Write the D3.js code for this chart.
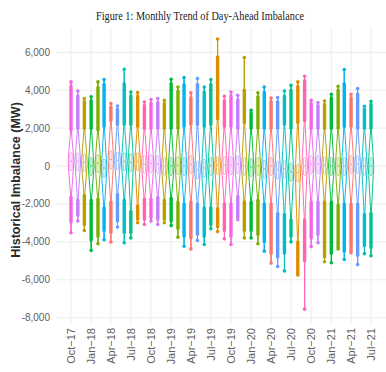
<!DOCTYPE html>
<html>
<head>
<meta charset="utf-8">
<script src="https://cdn.jsdelivr.net/npm/d3@7"></script>
<style>
body { margin: 0; background: #fff; }
</style>
</head>
<body>
<div id="viz"></div>
<script>
const width = 386;
const height = 372;
const panel = {left: 56, right: 386, top: 27, bottom: 325};

const months = [
	'2017-10', '2017-11', '2017-12', '2018-01', '2018-02', '2018-03', '2018-04', '2018-05', '2018-06', '2018-07',
	'2018-08', '2018-09', '2018-10', '2018-11', '2018-12', '2019-01', '2019-02', '2019-03', '2019-04', '2019-05',
	'2019-06', '2019-07', '2019-08', '2019-09', '2019-10', '2019-11', '2019-12', '2020-01', '2020-02', '2020-03',
	'2020-04', '2020-05', '2020-06', '2020-07', '2020-08', '2020-09', '2020-10', '2020-11', '2020-12', '2021-01',
	'2021-02', '2021-03', '2021-04', '2021-05', '2021-06', '2021-07'
];
const tickMonths = ['2017-10', '2018-01', '2018-04', '2018-07', '2018-10', '2019-01', '2019-04', '2019-07',
	'2019-10', '2020-01', '2020-04', '2020-07', '2020-10', '2021-01', '2021-04', '2021-07'];
const tickLabels = ['Oct\u221217', 'Jan\u221218', 'Apr\u221218', 'Jul\u221218', 'Oct\u221218', 'Jan\u221219', 'Apr\u221219', 'Jul\u221219',
	'Oct\u221219', 'Jan\u221220', 'Apr\u221220', 'Jul\u221220', 'Oct\u221220', 'Jan\u221221', 'Apr\u221221', 'Jul\u221221'];
const yTicks = [-8000, -6000, -4000, -2000, 0, 2000, 4000, 6000];

// box stats per month (MW)
const medians = [250, 250, 200, 0, 150, -100, 350, 300, 250, 200, 250, 100, 150, 100, 0, 0, 50, 0, 100, -200,
	-100, 0, 50, 50, 50, 100, 0, -50, 0, -150, 0, -200, -150, -300, -350, 0, 100, 100, 50, 0,
	0, 0, 100, 100, 0, 0];
const q1s = [-250, -250, -300, -500, -350, -600, -150, -200, -250, -300, -250, -400, -350, -400, -500, -500, -450, -500, -400, -700,
	-600, -500, -450, -450, -450, -400, -500, -550, -500, -650, -500, -700, -650, -800, -850, -500, -400, -400, -450, -500,
	-500, -500, -400, -400, -500, -500];
const q3s = [700, 700, 650, 450, 600, 350, 800, 750, 700, 650, 700, 550, 600, 550, 450, 450, 500, 450, 550, 250,
	350, 450, 500, 500, 500, 550, 450, 400, 450, 300, 450, 250, 300, 150, 100, 450, 550, 550, 500, 450,
	450, 450, 550, 550, 450, 450];

// outlier columns
const upperStart = [1900, 2000, 2000, 2000, 1900, 2100, 2400, 2200, 2200, 2200, 2100, 2000, 2000, 2000, 2000, 2000, 2000, 2100, 2200, 2200,
	2100, 2200, 2500, 2100, 2100, 2000, 2300, 2000, 2000, 2000, 2000, 2000, 2200, 2000, 2300, 2400, 2000, 2000, 2000, 2000,
	2000, 2100, 2100, 2000, 2000, 2000];
const upperDense = [4200, 3700, 3400, 3450, 4150, 4300, 3100, 3000, 4350, 3700, 3700, 3200, 3300, 3350, 3300, 4350, 3950, 4300, 3600, 4300,
	3900, 4300, 5760, 3450, 3700, 3500, 4000, 2800, 3650, 3900, 3400, 3400, 3700, 4000, 4200, 4500, 3300, 3200, 3250, 3600,
	4000, 4350, 3600, 3800, 3000, 3250];
const maxVals = [4440, 3960, 3560, 3650, 4440, 4560, 3300, 3170, 5110, 3910, 3880, 3380, 3510, 3560, 3470, 4580, 4170, 4670, 3860, 4620,
	4170, 4560, 6700, 3680, 3910, 3730, 5730, 2940, 3860, 4170, 3590, 3610, 3960, 4260, 4440, 4740, 3470, 3350, 3430, 3790,
	4210, 5090, 3790, 4090, 3150, 3420];
const lowerStart = [-1650, -1800, -1550, -1800, -1750, -2200, -1900, -1500, -1800, -2400, -2100, -1750, -1750, -1650, -1800, -1700, -1900, -2000, -1900, -2000,
	-2200, -2200, -2250, -2000, -2000, -1600, -1900, -1900, -1800, -2000, -2000, -2500, -2550, -2850, -4000, -2850, -1900, -1900, -1900, -1900,
	-2050, -2000, -2000, -2000, -2550, -2500];
const lowerDense = [-2950, -2600, -3100, -3900, -3700, -3400, -3500, -2900, -3500, -3500, -2800, -2800, -2700, -2800, -2800, -2900, -3300, -3700, -3800, -3600,
	-3700, -3100, -3200, -3400, -3700, -2700, -3400, -3400, -3600, -4000, -4600, -4800, -4600, -3700, -5700, -5000, -3800, -3600, -4800, -4600,
	-4300, -4500, -4500, -4700, -4200, -4300];
const minVals = [-3520, -2900, -3400, -4450, -4100, -3890, -4010, -3220, -4050, -3790, -2990, -3080, -2900, -3080, -2990, -3130, -3750, -4230, -4370, -3930,
	-4140, -3310, -3450, -3840, -4140, -2830, -3790, -3790, -4100, -4490, -5120, -5300, -5530, -4000, -5750, -7550, -4250, -4050, -5050, -5100,
	-4370, -4930, -4570, -5200, -4620, -4730];

const monthNames = ['Apr', 'Aug', 'Dec', 'Feb', 'Jan', 'Jul', 'Jun', 'Mar', 'May', 'Nov', 'Oct', 'Sep'];
const palette = ['#F8766D', '#DE8C00', '#B79F00', '#7CAE00', '#00BA38', '#00C08B', '#00BFC4', '#00B4F0', '#619CFF', '#C77CFF', '#F564E3', '#FF64B0'];

const parse = d3.timeParse('%Y-%m'),
	dates = months.map(parse),
	span = dates[dates.length - 1] - dates[0],
	xScale = d3.scaleTime()
		.domain([new Date(+dates[0] - span * 0.05), new Date(+dates[dates.length - 1] + span * 0.05)])
		.range([panel.left, panel.right]),
	yScale = d3.scaleLinear()
		.domain([-8385, 7335])
		.range([panel.bottom, panel.top]),
	colour = d3.scaleOrdinal(monthNames, palette),
	monthOf = d3.timeFormat('%b'),
	halfWidth = 2.8;

const data = months.map((m, i) => ({
	date: dates[i],
	color: colour(monthOf(dates[i])),
	med: medians[i], q1: q1s[i], q3: q3s[i],
	upStart: upperStart[i], upDense: upperDense[i], max: maxVals[i],
	lowStart: lowerStart[i], lowDense: lowerDense[i], min: minVals[i]
}));

const svg = d3.select('#viz')
	.append('svg')
	.attr('width', width)
	.attr('height', height)
	.attr('viewBox', [0, 0, width, height]);

// grid
svg.append('g')
	.selectAll('line')
	.data(yTicks)
	.join('line')
	.attr('x1', panel.left).attr('x2', panel.right)
	.attr('y1', d => yScale(d)).attr('y2', d => yScale(d))
	.attr('stroke', '#ebebeb').attr('stroke-width', 0.9);

svg.append('g')
	.selectAll('line')
	.data(tickMonths.map(parse))
	.join('line')
	.attr('x1', d => xScale(d)).attr('x2', d => xScale(d))
	.attr('y1', panel.top).attr('y2', panel.bottom)
	.attr('stroke', '#ebebeb').attr('stroke-width', 0.9);

const violinArea = (d) => {
	const cx = xScale(d.date),
		profile = [[d.min, 0], [d.lowStart, 0.1], [d.q1, 0.8], [d.med, 1], [d.q3, 0.8], [d.upStart, 0.1], [d.max, 0]];
	return d3.area()
		.curve(d3.curveLinear)
		.y(p => yScale(p[0]))
		.x0(p => cx - p[1] * halfWidth)
		.x1(p => cx + p[1] * halfWidth)(profile);
};

const groups = svg.selectAll('.month')
	.data(data)
	.join('g')
	.attr('class', 'month');

groups.append('line')
	.attr('x1', d => xScale(d.date)).attr('x2', d => xScale(d.date))
	.attr('y1', d => yScale(d.min)).attr('y2', d => yScale(d.max))
	.attr('stroke', d => d.color).attr('stroke-width', 0.9);

groups.append('path')
	.attr('d', violinArea)
	.attr('fill', 'white')
	.attr('stroke', d => d.color)
	.attr('stroke-width', 0.95);

groups.append('rect')
	.attr('x', d => xScale(d.date) - 1.1)
	.attr('width', 2.2)
	.attr('y', d => yScale(d.q3))
	.attr('height', d => yScale(d.q1) - yScale(d.q3))
	.attr('rx', 1)
	.attr('fill', 'white')
	.attr('stroke', d => d.color)
	.attr('stroke-width', 0.6);

groups.append('line')
	.attr('x1', d => xScale(d.date) - 1.1).attr('x2', d => xScale(d.date) + 1.1)
	.attr('y1', d => yScale(d.med)).attr('y2', d => yScale(d.med))
	.attr('stroke', d => d.color).attr('stroke-width', 0.7);

// dense outlier columns
groups.append('line')
	.attr('x1', d => xScale(d.date)).attr('x2', d => xScale(d.date))
	.attr('y1', d => yScale(d.upStart)).attr('y2', d => yScale(d.upDense))
	.attr('stroke', d => d.color).attr('stroke-width', 3.4).attr('stroke-linecap', 'round');

groups.append('line')
	.attr('x1', d => xScale(d.date)).attr('x2', d => xScale(d.date))
	.attr('y1', d => yScale(d.lowStart)).attr('y2', d => yScale(d.lowDense))
	.attr('stroke', d => d.color).attr('stroke-width', 3.4).attr('stroke-linecap', 'round');

groups.append('circle')
	.attr('cx', d => xScale(d.date)).attr('cy', d => yScale(d.max))
	.attr('r', 1.8).attr('fill', d => d.color);

groups.append('circle')
	.attr('cx', d => xScale(d.date)).attr('cy', d => yScale(d.min))
	.attr('r', 1.8).attr('fill', d => d.color);

// axes text
svg.append('g')
	.selectAll('text')
	.data(yTicks)
	.join('text')
	.attr('x', 50)
	.attr('y', d => yScale(d))
	.attr('dy', '0.35em')
	.attr('text-anchor', 'end')
	.attr('font-family', 'Liberation Sans, Arial, sans-serif')
	.attr('font-size', 10)
	.attr('fill', '#606060')
	.text(d => d3.format(',')(d).replace('\u2212', '-'));

svg.append('g')
	.selectAll('text')
	.data(tickMonths.map(parse))
	.join('text')
	.attr('transform', d => `translate(${xScale(d)}, 328) rotate(-90)`)
	.attr('dy', '0.35em')
	.attr('text-anchor', 'end')
	.attr('font-family', 'Liberation Sans, Arial, sans-serif')
	.attr('font-size', 11)
	.attr('fill', '#606060')
	.text((d, i) => tickLabels[i]);

svg.append('text')
	.attr('transform', 'translate(16, 180) rotate(-90)')
	.attr('dy', '0.35em')
	.attr('text-anchor', 'middle')
	.attr('font-family', 'Liberation Sans, Arial, sans-serif')
	.attr('font-weight', 'bold')
	.attr('font-size', 12.5)
	.attr('fill', '#2a2a2a')
	.text('Historical Imbalance (MW)');

svg.append('text')
	.attr('x', 200)
	.attr('y', 19.5)
	.attr('text-anchor', 'middle')
	.attr('font-family', 'Liberation Serif, serif')
	.attr('font-size', 13)
	.attr('textLength', 208)
	.attr('lengthAdjust', 'spacingAndGlyphs')
	.attr('fill', '#222')
	.text('Figure 1: Monthly Trend of Day-Ahead Imbalance');
</script>
</body>
</html>
